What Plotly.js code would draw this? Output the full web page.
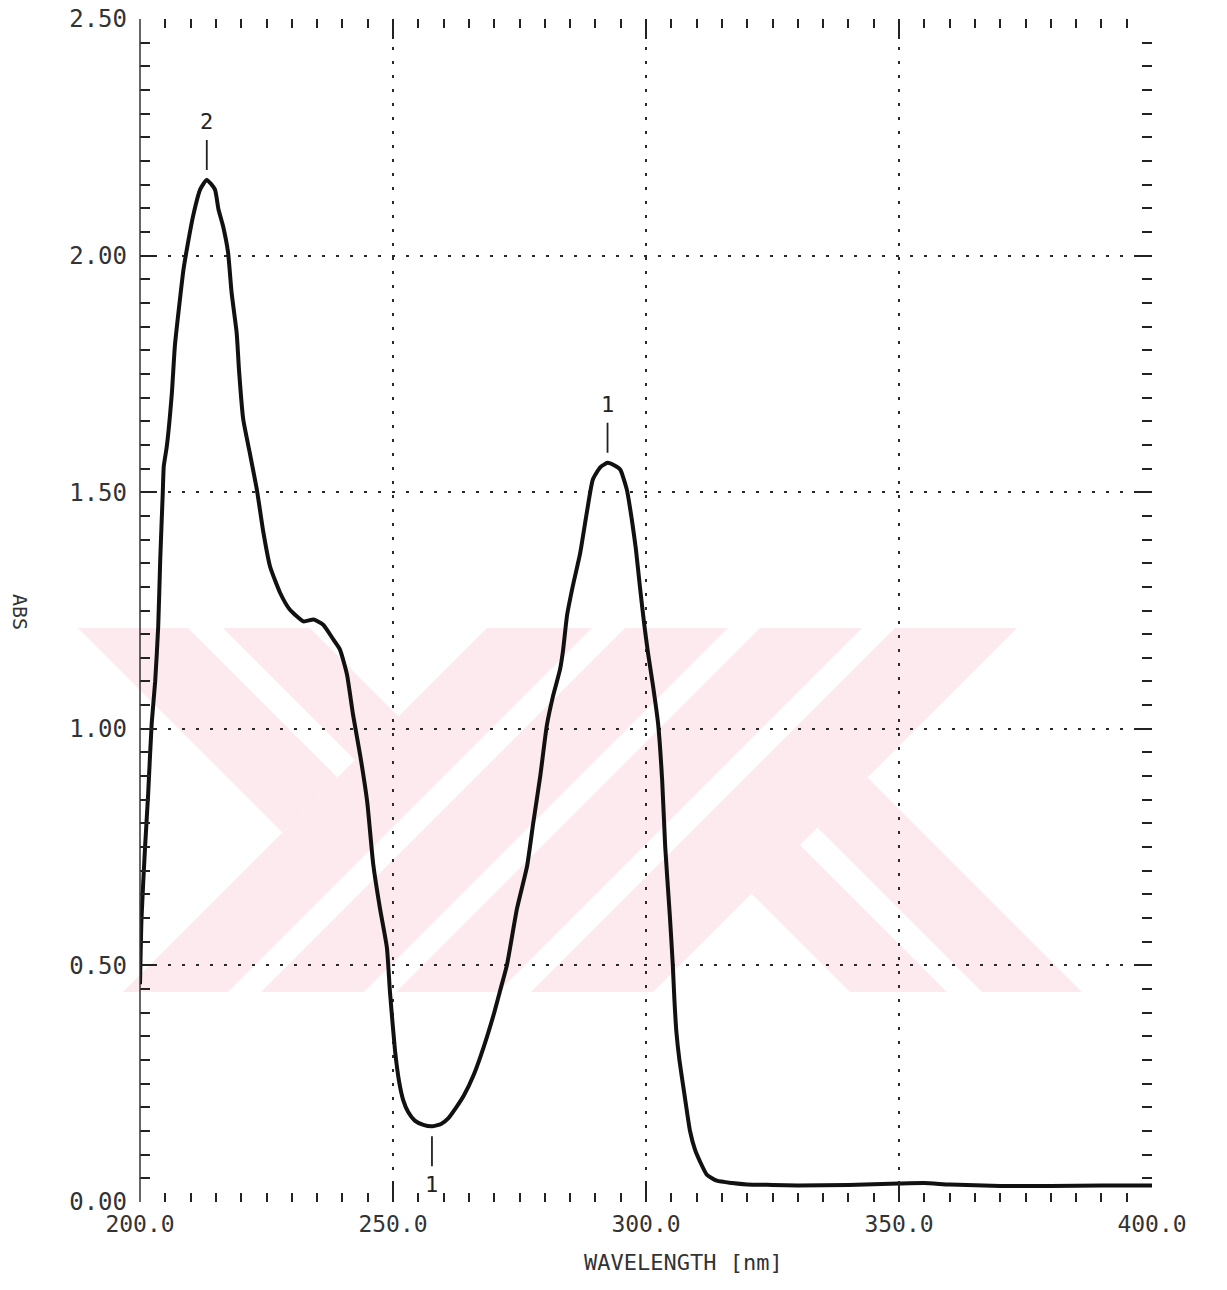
<!DOCTYPE html>
<html>
<head>
<meta charset="utf-8">
<script src="https://cdn.plot.ly/plotly-3.0.1.min.js"></script>
<style>
  html, body { margin: 0; padding: 0; background: #ffffff; }
  #chart { width: 1227px; height: 1290px; }
</style>
</head>
<body>
<div id="chart"></div>
<script>
// ---------------- DATA ----------------
const wavelength = [
  200.0, 200.3, 201.0, 201.6, 202.3, 203.0, 203.6, 204.0, 204.5, 204.7,
  205.3, 206.3, 206.9, 207.9, 208.6, 209.5, 210.5, 211.9, 213.2, 214.8,
  215.5, 216.4, 217.4, 218.1, 219.1, 219.6, 220.4, 221.7, 223.1, 224.4,
  225.7, 227.7, 229.6, 232.3, 234.3, 236.2, 238.2, 239.5, 240.9, 242.1,
  243.5, 244.9, 246.1, 247.4, 248.8, 249.4, 250.4, 251.2, 252.0, 253.0,
  254.3, 256.0, 257.7, 259.5, 261.0, 262.5, 264.0, 266.0, 268.0, 270.0,
  271.1, 272.5, 274.5, 276.5, 277.7, 279.1, 280.4, 281.6, 283.0, 283.6,
  284.4, 285.5, 287.0, 288.3, 289.5, 291.0, 292.4, 293.7, 294.9, 296.2,
  297.2, 298.0, 298.8, 299.6, 300.4, 301.4, 302.4, 303.2, 303.8, 304.7,
  305.3, 305.6, 306.0, 306.6, 307.7, 308.7, 309.7, 310.7, 312.0, 314.0,
  317.0, 320.0, 325.0, 330.0, 340.0, 350.0, 355.0, 360.0, 370.0, 380.0,
  390.0, 400.0
];
const absorbance = [
  0.46, 0.60, 0.75, 0.86, 1.01, 1.10, 1.217, 1.358, 1.499, 1.555,
  1.597, 1.71, 1.81, 1.908, 1.971, 2.028, 2.084, 2.14, 2.16, 2.14,
  2.098, 2.063, 2.007, 1.922, 1.837, 1.753, 1.654, 1.583, 1.505, 1.414,
  1.343, 1.287, 1.252, 1.227, 1.231, 1.22, 1.189, 1.168, 1.115, 1.03,
  0.945, 0.846, 0.713, 0.622, 0.537, 0.444, 0.32, 0.255, 0.216, 0.19,
  0.172, 0.163, 0.16, 0.165, 0.178, 0.20, 0.225, 0.27, 0.33, 0.40,
  0.444, 0.50, 0.62, 0.71, 0.80, 0.90, 1.007, 1.068, 1.125, 1.165,
  1.24, 1.30, 1.372, 1.457, 1.527, 1.553, 1.562, 1.557, 1.548, 1.506,
  1.442, 1.38, 1.30, 1.225, 1.16, 1.09, 1.01, 0.89, 0.75, 0.607,
  0.50, 0.43, 0.36, 0.30, 0.22, 0.15, 0.11, 0.085, 0.058, 0.045,
  0.040, 0.037, 0.036, 0.035, 0.036, 0.039, 0.040, 0.037, 0.034, 0.034,
  0.035, 0.035
];

const peakLabels = ['2', '1'];
const peakWl = [213.2, 292.4];
const peakAbs = [2.16, 1.562];

const valleyLabels = ['1'];
const valleyWl = [257.7];
const valleyAbs = [0.16];

const xTickVals = [200, 250, 300, 350, 400];
const yTickVals = [0, 0.5, 1.0, 1.5, 2.0, 2.5];

const xTitle = 'WAVELENGTH [nm]';
const yTitle = 'ABS';

// ---------------- LAYOUT / STYLE ----------------
const W = 1227, H = 1290;
const M = { l: 140, r: 75, t: 19, b: 88 };
const plotW = W - M.l - M.r, plotH = H - M.t - M.b;
const pxToPaperX = px => (px - M.l) / plotW;
const pxToPaperY = py => (H - M.b - py) / plotH;

const MONO = '"DejaVu Sans Mono", "Liberation Mono", monospace';
const INK = '#222222';

// Background watermark (decorative, pale pink diagonal bands) in page pixels
const wmBox = [[75, 628], [1085, 628], [1085, 992], [75, 992]];
// each band: list of half-planes a*x + b*y <= c
const wmBands = [
  [[1, 1, 1115], [-1, 1, 550], [1, -1, -440]],
  [[1, 1, 1115], [-1, 1, 405], [1, -1, -318]],
  [[-1, -1, -1115], [1, 1, 1220]],
  [[-1, -1, -1253], [1, 1, 1356]],
  [[-1, -1, -1388], [1, 1, 1490]],
  [[-1, -1, -1523], [1, 1, 1645]],
  [[-1, -1, -1645], [-1, 1, 142], [1, -1, -45]],
  [[-1, -1, -1645], [-1, 1, 10], [1, -1, 90]]
];
function clipHalf(poly, a, b, c) {
  const out = [];
  for (let i = 0; i < poly.length; i++) {
    const P = poly[i], Q = poly[(i + 1) % poly.length];
    const fp = a * P[0] + b * P[1] - c, fq = a * Q[0] + b * Q[1] - c;
    if (fp <= 0) out.push(P);
    if ((fp < 0 && fq > 0) || (fp > 0 && fq < 0)) {
      const t = fp / (fp - fq);
      out.push([P[0] + t * (Q[0] - P[0]), P[1] + t * (Q[1] - P[1])]);
    }
  }
  return out;
}
const shapes = [];
wmBands.forEach(band => {
  let poly = wmBox.slice();
  band.forEach(h => { poly = clipHalf(poly, h[0], h[1], h[2]); });
  if (poly.length < 3) return;
  const path = 'M ' + poly.map(p => pxToPaperX(p[0]).toFixed(5) + ',' + pxToPaperY(p[1]).toFixed(5)).join(' L ') + ' Z';
  shapes.push({ type: 'path', xref: 'paper', yref: 'paper', path: path,
    fillcolor: '#fdeaee', line: { width: 0 }, layer: 'below' });
});
// left frame line
shapes.push({ type: 'line', xref: 'paper', yref: 'paper', x0: 0, x1: 0, y0: 0, y1: 1,
  line: { color: '#333333', width: 1.5 } });

const annotations = [];
peakLabels.forEach((t, i) => annotations.push({
  x: peakWl[i], y: peakAbs[i], xref: 'x', yref: 'y', text: t,
  showarrow: true, arrowhead: 0, arrowwidth: 1.8, arrowcolor: INK,
  ax: 0, ay: -58, standoff: 10, startstandoff: 4,
  font: { family: MONO, size: 22, color: INK }
}));
valleyLabels.forEach((t, i) => annotations.push({
  x: valleyWl[i], y: valleyAbs[i], xref: 'x', yref: 'y', text: t,
  showarrow: true, arrowhead: 0, arrowwidth: 1.8, arrowcolor: INK,
  ax: 0, ay: 58, standoff: 10, startstandoff: 4,
  font: { family: MONO, size: 22, color: INK }
}));
annotations.push({
  xref: 'paper', yref: 'paper', x: pxToPaperX(20), y: pxToPaperY(612),
  xanchor: 'center', yanchor: 'middle',
  text: yTitle, textangle: 90, showarrow: false,
  font: { family: MONO, size: 20, color: '#333333' }
});
annotations.push({
  xref: 'paper', yref: 'paper', x: pxToPaperX(683), y: pxToPaperY(1262),
  xanchor: 'center', yanchor: 'middle',
  text: xTitle, showarrow: false,
  font: { family: MONO, size: 22, color: '#333333' }
});

const axisCommon = {
  ticks: 'inside', tickwidth: 2, tickcolor: INK, mirror: 'ticks',
  showline: false, zeroline: false,
  showgrid: true, gridcolor: '#2a2a2a', gridwidth: 2, griddash: '3px,11px',
  tickfont: { family: MONO, size: 23, color: '#333333' }
};

const layout = {
  width: W, height: H,
  margin: { l: M.l, r: M.r, t: M.t, b: M.b, pad: 0 },
  paper_bgcolor: '#ffffff', plot_bgcolor: 'rgba(0,0,0,0)',
  showlegend: false,
  xaxis: Object.assign({}, axisCommon, {
    range: [200, 400], tickmode: 'array', tickvals: xTickVals, tickformat: '.1f',
    ticklen: 20, ticklabelstandoff: 6,
    minor: { tick0: 200, dtick: 5, ticks: 'inside', ticklen: 9, tickwidth: 2, tickcolor: INK, showgrid: false }
  }),
  yaxis: Object.assign({}, axisCommon, {
    range: [0, 2.5], tickmode: 'array', tickvals: yTickVals, tickformat: '.2f',
    ticklen: 17, ticklabelstandoff: 12,
    tickfont: { family: MONO, size: 24, color: '#333333' },
    minor: { tick0: 0, dtick: 0.05, ticks: 'inside', ticklen: 10, tickwidth: 2, tickcolor: INK, showgrid: false }
  }),
  shapes: shapes,
  annotations: annotations
};

const traces = [{
  type: 'scatter', mode: 'lines',
  x: wavelength, y: absorbance,
  line: { color: '#111111', width: 4, shape: 'spline', smoothing: 0.5 },
  hoverinfo: 'skip'
}];

Plotly.newPlot('chart', traces, layout, { displayModeBar: false, staticPlot: true });
</script>
</body>
</html>
